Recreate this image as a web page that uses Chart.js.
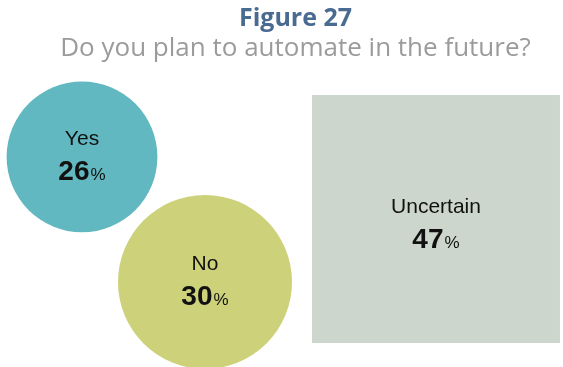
<!DOCTYPE html>
<html>
<head>
<meta charset="utf-8">
<script src="https://cdn.jsdelivr.net/npm/chart.js@4/dist/chart.umd.min.js"></script>
<style>
  html, body { margin: 0; padding: 0; background: #ffffff; }
  #wrap { width: 563px; height: 367px; }
</style>
</head>
<body>
<div id="wrap"><canvas id="automate-chart"></canvas></div>
<script>
document.addEventListener('DOMContentLoaded', function () {
    // Survey answers
    const answers = ['Yes', 'No', 'Uncertain'];
    const shares = [26, 30, 47];

    // Where each mark sits (x, y in page pixels) and how it looks
    const centers = [[82, 157], [205, 282], [436, 219]];
    const shapes = ['circle', 'circle', 'rect'];
    const fills = ['#62b8c1', '#cdd17a', '#cdd6cc'];
    // radius per percentage point; a rect of radius r has side r * sqrt(2)
    const pxPerPoint = { circle: 2.9, rect: 3.73 };
    const labelShift = { circle: 0, rect: 6 };

    const points = shares.map(function (v, i) {
        return { x: centers[i][0], y: centers[i][1], r: v * pxPerPoint[shapes[i]] };
    });

    // Writes the answer and its share in the middle of each mark
    const shareLabels = {
        id: 'shareLabels',
        afterDatasetsDraw: function (chart) {
            const ctx = chart.ctx;
            const meta = chart.getDatasetMeta(0);
            ctx.save();
            ctx.fillStyle = '#111111';
            ctx.textBaseline = 'alphabetic';
            meta.data.forEach(function (el, i) {
                const dy = labelShift[shapes[i]];
                ctx.textAlign = 'center';
                ctx.font = '21px "Liberation Sans", Arial, sans-serif';
                ctx.fillText(answers[i], el.x, el.y - 12 + dy);

                const num = String(shares[i]);
                const numFont = 'bold 28px "Liberation Sans", Arial, sans-serif';
                const pctFont = '17px "Liberation Sans", Arial, sans-serif';
                ctx.font = numFont;
                const wNum = ctx.measureText(num).width;
                ctx.font = pctFont;
                const wPct = ctx.measureText('%').width;
                const left = el.x - (wNum + wPct + 1) / 2;
                ctx.textAlign = 'left';
                ctx.font = numFont;
                ctx.fillText(num, left, el.y + 23 + dy);
                ctx.font = pctFont;
                ctx.fillText('%', left + wNum + 1, el.y + 23 + dy);
            });
            ctx.restore();
        }
    };

    new Chart(document.getElementById('automate-chart'), {
        type: 'bubble',
        data: {
            labels: answers,
            datasets: [{
                data: points,
                backgroundColor: fills,
                borderWidth: 0,
                pointStyle: shapes,
                clip: false
            }]
        },
        options: {
            responsive: true,
            maintainAspectRatio: false,
            animation: false,
            events: [],
            // left padding moves the centred headings right; x scale starts there too
            layout: { padding: { left: 28 }, autoPadding: false },
            scales: {
                x: { type: 'linear', min: 28, max: 563, display: false },
                y: { type: 'linear', min: 64, max: 367, reverse: true, display: false }
            },
            plugins: {
                legend: { display: false },
                tooltip: { enabled: false },
                title: {
                    display: true,
                    text: 'Figure 27',
                    color: '#4a6b91',
                    font: { family: 'Open Sans', size: 25, weight: 'bold', lineHeight: 1.2 },
                    padding: { top: 4, bottom: 0 }
                },
                subtitle: {
                    display: true,
                    text: 'Do you plan to automate in the future?',
                    color: '#9b9b9b',
                    font: { family: 'Open Sans', size: 26, weight: 'normal', lineHeight: 1.15 },
                    padding: { top: 0, bottom: 0 }
                }
            }
        },
        plugins: [shareLabels]
    });
});
</script>
</body>
</html>
